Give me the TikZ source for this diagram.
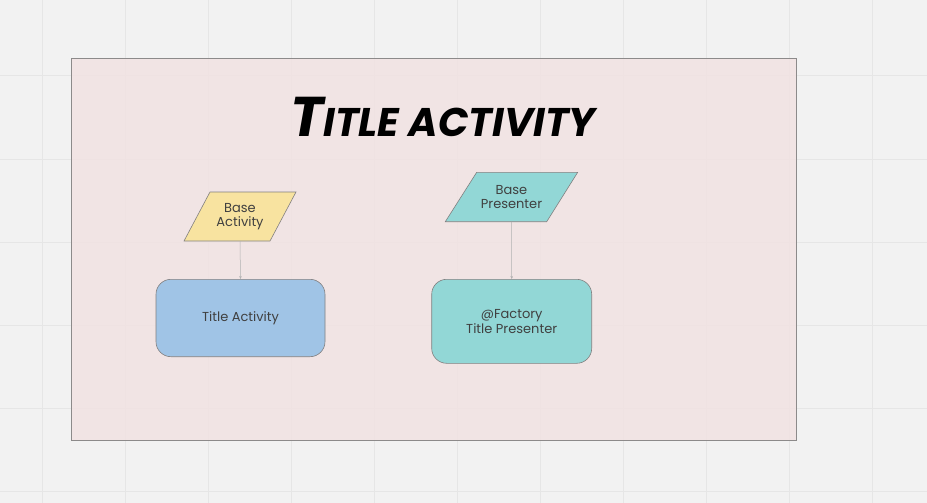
\documentclass[tikz,border=0pt]{standalone}
\usepackage{fontspec}
\setmainfont{Poppins}
\newfontfamily\titlefont{Poppins}
\usetikzlibrary{arrows.meta}
\definecolor{bgc}{RGB}{242,242,242}
\definecolor{gridc}{RGB}{230,230,230}
\definecolor{framefill}{RGB}{241,226,226}
\definecolor{framedraw}{RGB}{140,138,138}
\definecolor{yel}{RGB}{248,227,160}
\definecolor{teal}{RGB}{146,215,214}
\definecolor{blu}{RGB}{160,196,230}
\definecolor{shapedraw}{RGB}{130,128,128}
\definecolor{txt}{RGB}{64,64,64}
\tikzset{
  lbl/.style={font=\fontsize{13}{14.5}\selectfont, text=txt, align=center, inner sep=0pt},
  para/.style={draw=shapedraw, line width=0.6pt},
  rbox/.style={draw=shapedraw, line width=0.6pt, rounded corners=15pt},
  conn/.style={draw=gray!60, line width=0.5pt, -{Stealth[length=3pt,width=2.5pt,fill=gray!70!black]}}
}
\begin{document}
\begin{tikzpicture}[x=1pt,y=-1pt]
\useasboundingbox (0,0) rectangle (927,503);
\fill[bgc] (0,0) rectangle (927,503);
\foreach \gx in {42,125,208,291,374,457,540,623,706,789,872} \draw[gridc, line width=1pt] (\gx,0) -- (\gx,503);
\foreach \gy in {76,159,242,325,408,491} \draw[gridc, line width=1pt] (0,\gy) -- (927,\gy);
% frame
\fill[framefill, fill opacity=0.85] (71,58) rectangle (796,440);
\draw[framedraw, line width=0.8pt] (71,58) rectangle (796,440);
% title
\node[inner sep=0pt, text=black] (title) at (443,117) {\titlefont\bfseries\itshape{\fontsize{56}{56}\selectfont T}{\fontsize{40}{40}\selectfont ITLE ACTIVITY}};
% parallelograms
\fill[yel, para] (210,192) -- (296,192) -- (270,241) -- (184,241) -- cycle;
\node[lbl, minimum width=60pt, minimum height=49pt] (ba) at (240,216.5) {Base\\Activity};
\fill[teal, para] (476.7,172.3) -- (577.7,172.3) -- (546.7,221.7) -- (445.3,221.7) -- cycle;
\node[lbl, minimum width=70pt, minimum height=49.4pt] (bp) at (511.5,197) {Base\\Presenter};
% boxes
\node[rbox, fill=blu, lbl, minimum width=169pt, minimum height=77.4pt] (ta) at (240.5,318) {Title Activity};
\node[rbox, fill=teal, lbl, minimum width=160pt, minimum height=84pt] (tp) at (511.7,321.3) {@Factory\\Title Presenter};
% connectors
\draw[conn] (ba.south) -- (ta.north);
\draw[conn] (bp.south) -- (tp.north);
\end{tikzpicture}
\end{document}
